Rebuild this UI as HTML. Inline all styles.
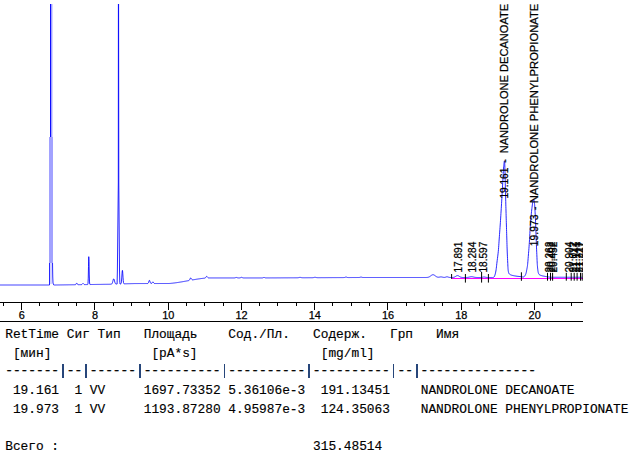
<!DOCTYPE html>
<html><head><meta charset="utf-8"><title>Chromatogram</title>
<style>
html,body{margin:0;padding:0;background:#fff;}
body{width:636px;height:456px;position:relative;overflow:hidden;font-family:"Liberation Sans",sans-serif;}
.a{font-family:"Liberation Sans",sans-serif;fill:#000;stroke:#000;stroke-width:0.25px;}
.m{position:absolute;font-family:"Liberation Mono",monospace;font-size:12.85px;line-height:25px;height:25px;letter-spacing:-0.0163px;white-space:pre;color:#000;-webkit-text-stroke:0.15px #000;}
.p{position:absolute;top:363.6px;width:1.4px;height:14.2px;background:#27467a;}
.d{-webkit-text-stroke:0.4px #000;}
</style></head><body>
<svg width="636" height="456" viewBox="0 0 636 456" style="position:absolute;left:0;top:0">
<defs><clipPath id="c"><rect x="0" y="4" width="583" height="300"/></clipPath></defs>
<polyline clip-path="url(#c)" fill="none" stroke="#0000ff" stroke-width="0.85" stroke-linejoin="round" points="52.50,262.00 52.60,268.00 52.75,277.00 53.00,283.00 53.60,284.80 54.60,285.00 54.75,285.00 55.00,285.00 55.25,285.00 55.50,284.99 55.75,284.99 56.00,284.99 56.25,284.98 56.50,284.98 56.75,284.98 57.00,284.97 57.25,284.97 57.50,284.97 57.75,284.96 58.00,284.96 58.25,284.96 58.50,284.95 58.75,284.95 59.00,284.95 59.25,284.94 59.50,284.94 59.75,284.94 60.00,284.93 60.25,284.93 60.50,284.93 60.75,284.92 61.00,284.92 61.25,284.91 61.50,284.91 61.75,284.91 62.00,284.90 62.25,284.90 62.50,284.90 62.75,284.89 63.00,284.89 63.25,284.89 63.50,284.88 63.75,284.88 64.00,284.88 64.25,284.87 64.50,284.87 64.75,284.87 65.00,284.86 65.25,284.86 65.50,284.86 65.75,284.85 66.00,284.85 66.25,284.85 66.50,284.84 66.75,284.84 67.00,284.84 67.25,284.83 67.50,284.83 67.75,284.83 68.00,284.82 68.25,284.82 68.50,284.82 68.75,284.81 69.00,284.81 69.25,284.81 69.50,284.80 69.75,284.80 70.00,284.80 70.25,284.79 70.50,284.79 70.75,284.79 71.00,284.78 71.25,284.78 71.50,284.77 71.75,284.77 72.00,284.77 72.25,284.76 72.50,284.76 72.75,284.76 73.00,284.75 73.25,284.75 73.50,284.75 73.75,284.74 74.00,284.74 74.25,284.74 74.50,284.73 74.75,284.73 75.00,284.72 75.25,284.70 75.50,284.63 75.75,284.45 76.00,284.11 76.25,283.64 76.50,283.23 76.75,283.11 77.00,283.36 77.25,283.82 77.50,284.25 77.75,284.51 78.00,284.63 78.25,284.67 78.50,284.68 78.75,284.68 79.00,284.67 79.25,284.67 79.50,284.67 79.75,284.66 80.00,284.66 80.25,284.66 80.50,284.65 80.75,284.65 81.00,284.64 81.25,284.62 81.50,284.59 81.75,284.50 82.00,284.33 82.25,284.08 82.50,283.78 82.75,283.52 83.00,283.42 83.25,283.51 83.50,283.76 83.75,284.06 84.00,284.31 84.25,284.46 84.50,284.55 84.75,284.58 85.00,284.59 85.25,284.59 85.50,284.58 85.75,284.58 86.00,284.58 86.25,284.57 86.50,284.57 86.75,284.57 87.00,284.56 87.25,284.56 87.50,284.55 87.75,284.42 88.00,283.31 88.25,278.11 88.50,266.37 88.75,256.68 89.00,261.34 89.25,274.04 89.50,281.95 89.75,284.18 90.00,284.50 90.25,284.52 90.50,284.52 90.75,284.51 91.00,284.51 91.25,284.51 91.50,284.50 91.75,284.50 92.00,284.50 92.25,284.49 92.50,284.49 92.75,284.49 93.00,284.48 93.25,284.48 93.50,284.48 93.75,284.47 94.00,284.47 94.25,284.46 94.50,284.46 94.75,284.46 95.00,284.45 95.25,284.45 95.50,284.45 95.75,284.44 96.00,284.44 96.25,284.44 96.50,284.43 96.75,284.43 97.00,284.43 97.25,284.42 97.50,284.42 97.75,284.42 98.00,284.41 98.25,284.41 98.50,284.41 98.75,284.40 99.00,284.40 99.25,284.40 99.50,284.39 99.75,284.39 100.00,284.39 100.25,284.38 100.50,284.38 100.75,284.38 101.00,284.37 101.25,284.37 101.50,284.37 101.75,284.36 102.00,284.36 102.25,284.36 102.50,284.35 102.75,284.35 103.00,284.35 103.25,284.34 103.50,284.34 103.75,284.34 104.00,284.33 104.25,284.33 104.50,284.32 104.75,284.32 105.00,284.32 105.25,284.31 105.50,284.31 105.75,284.31 106.00,284.30 106.25,284.30 106.50,284.30 106.75,284.29 107.00,284.29 107.25,284.29 107.50,284.28 107.75,284.28 108.00,284.28 108.25,284.27 108.50,284.27 108.75,284.27 109.00,284.26 109.25,284.26 109.50,284.26 109.75,284.25 110.00,284.25 110.25,284.24 110.50,284.23 110.75,284.22 111.00,284.20 111.25,284.16 111.50,284.08 111.75,283.93 112.00,283.64 112.25,283.16 112.50,282.45 112.75,281.55 113.00,280.55 113.25,279.63 113.50,279.01 113.75,278.85 114.00,279.19 114.25,279.94 114.50,280.90 114.75,281.87 115.00,282.68 115.25,283.28 115.50,283.66 115.75,283.88 116.00,283.99 116.25,284.03 116.50,284.04 116.75,284.04 117.10,284.04 117.40,270.00 118.30,183.00 118.40,3.50 118.60,3.50 118.80,183.00 119.50,270.00 119.80,282.50 120.00,283.95 120.00,283.95 120.25,283.94 120.50,283.92 120.75,283.87 121.00,283.65 121.25,282.93 121.50,281.17 121.75,277.97 122.00,273.87 122.25,270.69 122.50,270.35 122.75,273.07 123.00,277.14 123.25,280.60 123.50,282.62 123.75,283.48 124.00,283.75 124.25,283.81 124.50,283.81 124.75,283.81 125.00,283.80 125.25,283.79 125.50,283.79 125.75,283.78 126.00,283.78 126.25,283.77 126.50,283.76 126.75,283.76 127.00,283.75 127.25,283.74 127.50,283.74 127.75,283.73 128.00,283.73 128.25,283.72 128.50,283.71 128.75,283.71 129.00,283.70 129.25,283.69 129.50,283.69 129.75,283.68 130.00,283.68 130.25,283.67 130.50,283.66 130.75,283.66 131.00,283.65 131.25,283.64 131.50,283.64 131.75,283.63 132.00,283.62 132.25,283.62 132.50,283.61 132.75,283.61 133.00,283.60 133.25,283.59 133.50,283.59 133.75,283.58 134.00,283.57 134.25,283.57 134.50,283.56 134.75,283.56 135.00,283.55 135.25,283.55 135.50,283.55 135.75,283.55 136.00,283.55 136.25,283.55 136.50,283.55 136.75,283.55 137.00,283.55 137.25,283.55 137.50,283.55 137.75,283.55 138.00,283.55 138.25,283.55 138.50,283.54 138.75,283.54 139.00,283.54 139.25,283.54 139.50,283.54 139.75,283.54 140.00,283.54 140.25,283.54 140.50,283.54 140.75,283.54 141.00,283.54 141.25,283.54 141.50,283.54 141.75,283.54 142.00,283.54 142.25,283.54 142.50,283.54 142.75,283.54 143.00,283.54 143.25,283.54 143.50,283.54 143.75,283.54 144.00,283.54 144.25,283.54 144.50,283.54 144.75,283.54 145.00,283.54 145.25,283.53 145.50,283.53 145.75,283.53 146.00,283.53 146.25,283.53 146.50,283.53 146.75,283.53 147.00,283.53 147.25,283.53 147.50,283.51 147.75,283.46 148.00,283.32 148.25,283.02 148.50,282.49 148.75,281.75 149.00,280.97 149.25,280.43 149.50,280.37 149.75,280.83 150.00,281.59 150.25,282.35 150.50,282.93 150.75,283.27 151.00,283.42 151.25,283.46 151.50,283.41 151.75,283.25 152.00,282.97 152.25,282.58 152.50,282.16 152.75,281.88 153.00,281.85 153.25,282.09 153.50,282.49 153.75,282.90 154.00,283.21 154.25,283.39 154.50,283.47 154.75,283.51 155.00,283.52 155.25,283.52 155.50,283.52 155.75,283.52 156.00,283.52 156.25,283.52 156.50,283.52 156.75,283.52 157.00,283.52 157.25,283.52 157.50,283.52 157.75,283.52 158.00,283.52 158.25,283.52 158.50,283.52 158.75,283.52 159.00,283.51 159.25,283.51 159.50,283.51 159.75,283.51 160.00,283.51 160.25,283.51 160.50,283.51 160.75,283.51 161.00,283.51 161.25,283.51 161.50,283.51 161.75,283.51 162.00,283.51 162.25,283.51 162.50,283.51 162.75,283.51 163.00,283.51 163.25,283.51 163.50,283.51 163.75,283.51 164.00,283.51 164.25,283.51 164.50,283.51 164.75,283.51 165.00,283.51 165.25,283.51 165.50,283.51 165.75,283.50 166.00,283.50 166.25,283.50 166.50,283.50 166.75,283.50 167.00,283.50 167.25,283.50 167.50,283.50 167.75,283.50 168.00,283.50 168.25,283.50 168.50,283.50 168.75,283.50 169.00,283.50 169.25,283.48 169.50,283.46 169.75,283.44 170.00,283.42 170.25,283.40 170.50,283.38 170.75,283.36 171.00,283.33 171.25,283.31 171.50,283.28 171.75,283.26 172.00,283.23 172.25,283.21 172.50,283.18 172.75,283.15 173.00,283.12 173.25,283.09 173.50,283.06 173.75,283.03 174.00,283.00 174.25,282.97 174.50,282.94 174.75,282.91 175.00,282.88 175.25,282.84 175.50,282.81 175.75,282.78 176.00,282.74 176.25,282.71 176.50,282.67 176.75,282.63 177.00,282.60 177.25,282.56 177.50,282.52 177.75,282.49 178.00,282.45 178.25,282.41 178.50,282.37 178.75,282.33 179.00,282.29 179.25,282.25 179.50,282.21 179.75,282.17 180.00,282.13 180.25,282.09 180.50,282.05 180.75,282.01 181.00,281.97 181.25,281.93 181.50,281.88 181.75,281.84 182.00,281.80 182.25,281.76 182.50,281.71 182.75,281.67 183.00,281.63 183.25,281.58 183.50,281.54 183.75,281.49 184.00,281.45 184.25,281.40 184.50,281.36 184.75,281.31 185.00,281.27 185.25,281.22 185.50,281.18 185.75,281.13 186.00,281.09 186.25,281.04 186.50,281.00 186.75,280.95 187.00,280.91 187.25,280.86 187.50,280.82 187.75,280.77 188.00,280.72 188.25,280.67 188.50,280.62 188.75,280.54 189.00,280.42 189.25,280.23 189.50,279.92 189.75,279.49 190.00,278.97 190.25,278.44 190.50,278.06 190.75,277.93 191.00,278.08 191.25,278.45 191.50,278.89 191.75,279.30 192.00,279.59 192.25,279.76 192.50,279.83 192.75,279.84 193.00,279.81 193.25,279.78 193.50,279.74 193.75,279.69 194.00,279.65 194.25,279.61 194.50,279.57 194.75,279.52 195.00,279.48 195.25,279.44 195.50,279.40 195.75,279.36 196.00,279.32 196.25,279.28 196.50,279.24 196.75,279.20 197.00,279.16 197.25,279.12 197.50,279.08 197.75,279.04 198.00,279.00 198.25,278.96 198.50,278.93 198.75,278.89 199.00,278.85 199.25,278.82 199.50,278.78 199.75,278.74 200.00,278.71 200.25,278.67 200.50,278.64 200.75,278.61 201.00,278.57 201.25,278.54 201.50,278.51 201.75,278.48 202.00,278.45 202.25,278.42 202.50,278.39 202.75,278.36 203.00,278.33 203.25,278.30 203.50,278.27 203.75,278.24 204.00,278.22 204.25,278.19 204.50,278.16 204.75,278.11 205.00,278.03 205.25,277.91 205.50,277.70 205.75,277.41 206.00,277.06 206.25,276.71 206.50,276.45 206.75,276.37 207.00,276.49 207.25,276.77 207.50,277.12 207.75,277.43 208.00,277.66 208.25,277.81 208.50,277.89 208.75,277.93 209.00,277.94 209.25,277.95 209.50,277.95 209.75,277.95 210.00,277.95 210.25,277.95 210.50,277.95 210.75,277.95 211.00,277.95 211.25,277.95 211.50,277.95 211.75,277.95 212.00,277.95 212.25,277.95 212.50,277.95 212.75,277.95 213.00,277.95 213.25,277.95 213.50,277.95 213.75,277.95 214.00,277.95 214.25,277.95 214.50,277.95 214.75,277.95 215.00,277.95 215.25,277.95 215.50,277.95 215.75,277.95 216.00,277.95 216.25,277.95 216.50,277.95 216.75,277.95 217.00,277.95 217.25,277.95 217.50,277.95 217.75,277.95 218.00,277.95 218.25,277.95 218.50,277.95 218.75,277.95 219.00,277.95 219.25,277.95 219.50,277.95 219.75,277.95 220.00,277.95 220.25,277.95 220.50,277.95 220.75,277.95 221.00,277.95 221.25,277.95 221.50,277.95 221.75,277.95 222.00,277.95 222.25,277.95 222.50,277.95 222.75,277.95 223.00,277.95 223.25,277.95 223.50,277.95 223.75,277.95 224.00,277.95 224.25,277.95 224.50,277.95 224.75,277.95 225.00,277.95 225.25,277.95 225.50,277.95 225.75,277.95 226.00,277.95 226.25,277.95 226.50,277.95 226.75,277.95 227.00,277.95 227.25,277.95 227.50,277.95 227.75,277.95 228.00,277.95 228.25,277.95 228.50,277.95 228.75,277.95 229.00,277.95 229.25,277.95 229.50,277.95 229.75,277.95 230.00,277.95 230.25,277.95 230.50,277.95 230.75,277.95 231.00,277.95 231.25,277.95 231.50,277.95 231.75,277.95 232.00,277.95 232.25,277.95 232.50,277.95 232.75,277.95 233.00,277.95 233.25,277.95 233.50,277.95 233.75,277.95 234.00,277.94 234.25,277.93 234.50,277.91 234.75,277.87 235.00,277.82 235.25,277.74 235.50,277.65 235.75,277.56 236.00,277.48 236.25,277.45 236.50,277.47 236.75,277.52 237.00,277.61 237.25,277.70 237.50,277.79 237.75,277.85 238.00,277.90 238.25,277.92 238.50,277.94 238.75,277.94 239.00,277.94 239.25,277.94 239.50,277.92 239.75,277.90 240.00,277.85 240.25,277.77 240.50,277.68 240.75,277.56 241.00,277.46 241.25,277.38 241.50,277.35 241.75,277.38 242.00,277.46 242.25,277.56 242.50,277.68 242.75,277.77 243.00,277.85 243.25,277.90 243.50,277.92 243.75,277.94 244.00,277.95 244.25,277.95 244.50,277.95 244.75,277.95 245.00,277.95 245.25,277.95 245.50,277.95 245.75,277.95 246.00,277.95 246.25,277.95 246.50,277.95 246.75,277.95 247.00,277.95 247.25,277.95 247.50,277.95 247.75,277.95 248.00,277.95 248.25,277.95 248.50,277.95 248.75,277.95 249.00,277.95 249.25,277.95 249.50,277.95 249.75,277.95 250.00,277.95 250.25,277.95 250.50,277.95 250.75,277.95 251.00,277.95 251.25,277.95 251.50,277.95 251.75,277.95 252.00,277.95 252.25,277.95 252.50,277.95 252.75,277.95 253.00,277.95 253.25,277.95 253.50,277.95 253.75,277.95 254.00,277.95 254.25,277.95 254.50,277.95 254.75,277.95 255.00,277.95 255.25,277.95 255.50,277.95 255.75,277.95 256.00,277.95 256.25,277.95 256.50,277.95 256.75,277.95 257.00,277.95 257.25,277.95 257.50,277.95 257.75,277.95 258.00,277.95 258.25,277.95 258.50,277.95 258.75,277.95 259.00,277.95 259.25,277.95 259.50,277.95 259.75,277.95 260.00,277.95 260.25,277.95 260.50,277.95 260.75,277.95 261.00,277.95 261.25,277.94 261.50,277.94 261.75,277.94 262.00,277.93 262.25,277.92 262.50,277.89 262.75,277.84 263.00,277.76 263.25,277.65 263.50,277.55 263.75,277.46 264.00,277.43 264.25,277.46 264.50,277.54 264.75,277.65 265.00,277.75 265.25,277.82 265.50,277.87 265.75,277.90 266.00,277.91 266.25,277.92 266.50,277.92 266.75,277.92 267.00,277.92 267.25,277.92 267.50,277.92 267.75,277.92 268.00,277.91 268.25,277.91 268.50,277.91 268.75,277.91 269.00,277.91 269.25,277.91 269.50,277.91 269.75,277.91 270.00,277.90 270.25,277.90 270.50,277.90 270.75,277.90 271.00,277.90 271.25,277.90 271.50,277.90 271.75,277.90 272.00,277.90 272.25,277.89 272.50,277.89 272.75,277.89 273.00,277.89 273.25,277.89 273.50,277.89 273.75,277.89 274.00,277.89 274.25,277.89 274.50,277.88 274.75,277.88 275.00,277.88 275.25,277.88 275.50,277.88 275.75,277.88 276.00,277.88 276.25,277.88 276.50,277.88 276.75,277.87 277.00,277.87 277.25,277.87 277.50,277.87 277.75,277.87 278.00,277.87 278.25,277.87 278.50,277.87 278.75,277.87 279.00,277.86 279.25,277.86 279.50,277.86 279.75,277.86 280.00,277.86 280.25,277.86 280.50,277.86 280.75,277.86 281.00,277.86 281.25,277.85 281.50,277.85 281.75,277.85 282.00,277.85 282.25,277.85 282.50,277.85 282.75,277.85 283.00,277.85 283.25,277.85 283.50,277.84 283.75,277.84 284.00,277.84 284.25,277.84 284.50,277.84 284.75,277.84 285.00,277.84 285.25,277.84 285.50,277.84 285.75,277.83 286.00,277.83 286.25,277.83 286.50,277.83 286.75,277.83 287.00,277.83 287.25,277.83 287.50,277.83 287.75,277.83 288.00,277.82 288.25,277.82 288.50,277.82 288.75,277.82 289.00,277.82 289.25,277.82 289.50,277.82 289.75,277.82 290.00,277.81 290.25,277.81 290.50,277.81 290.75,277.81 291.00,277.81 291.25,277.81 291.50,277.81 291.75,277.81 292.00,277.81 292.25,277.80 292.50,277.80 292.75,277.80 293.00,277.80 293.25,277.80 293.50,277.80 293.75,277.80 294.00,277.80 294.25,277.80 294.50,277.79 294.75,277.79 295.00,277.79 295.25,277.79 295.50,277.79 295.75,277.79 296.00,277.79 296.25,277.79 296.50,277.78 296.75,277.78 297.00,277.78 297.25,277.77 297.50,277.76 297.75,277.75 298.00,277.72 298.25,277.69 298.50,277.65 298.75,277.59 299.00,277.53 299.25,277.47 299.50,277.42 299.75,277.38 300.00,277.37 300.25,277.38 300.50,277.41 300.75,277.46 301.00,277.52 301.25,277.58 301.50,277.63 301.75,277.68 302.00,277.71 302.25,277.73 302.50,277.74 302.75,277.75 303.00,277.75 303.25,277.75 303.50,277.75 303.75,277.75 304.00,277.75 304.25,277.75 304.50,277.75 304.75,277.75 305.00,277.75 305.25,277.75 305.50,277.75 305.75,277.74 306.00,277.74 306.25,277.74 306.50,277.74 306.75,277.74 307.00,277.74 307.25,277.74 307.50,277.74 307.75,277.74 308.00,277.73 308.25,277.73 308.50,277.73 308.75,277.73 309.00,277.73 309.25,277.73 309.50,277.73 309.75,277.73 310.00,277.72 310.25,277.72 310.50,277.72 310.75,277.72 311.00,277.72 311.25,277.72 311.50,277.72 311.75,277.72 312.00,277.71 312.25,277.71 312.50,277.70 312.75,277.68 313.00,277.66 313.25,277.62 313.50,277.58 313.75,277.52 314.00,277.46 314.25,277.40 314.50,277.35 314.75,277.32 315.00,277.30 315.25,277.31 315.50,277.35 315.75,277.40 316.00,277.46 316.25,277.51 316.50,277.57 316.75,277.61 317.00,277.64 317.25,277.66 317.50,277.67 317.75,277.68 318.00,277.68 318.25,277.69 318.50,277.69 318.75,277.69 319.00,277.68 319.25,277.68 319.50,277.68 319.75,277.68 320.00,277.68 320.25,277.68 320.50,277.68 320.75,277.68 321.00,277.68 321.25,277.67 321.50,277.67 321.75,277.67 322.00,277.67 322.25,277.67 322.50,277.67 322.75,277.67 323.00,277.67 323.25,277.67 323.50,277.66 323.75,277.66 324.00,277.66 324.25,277.66 324.50,277.66 324.75,277.66 325.00,277.66 325.25,277.66 325.50,277.66 325.75,277.65 326.00,277.65 326.25,277.65 326.50,277.65 326.75,277.65 327.00,277.65 327.25,277.65 327.50,277.65 327.75,277.65 328.00,277.64 328.25,277.64 328.50,277.64 328.75,277.64 329.00,277.64 329.25,277.64 329.50,277.64 329.75,277.64 330.00,277.63 330.25,277.63 330.50,277.63 330.75,277.63 331.00,277.63 331.25,277.63 331.50,277.63 331.75,277.63 332.00,277.63 332.25,277.62 332.50,277.62 332.75,277.62 333.00,277.62 333.25,277.62 333.50,277.62 333.75,277.62 334.00,277.62 334.25,277.62 334.50,277.61 334.75,277.61 335.00,277.61 335.25,277.61 335.50,277.61 335.75,277.61 336.00,277.61 336.25,277.61 336.50,277.61 336.75,277.60 337.00,277.60 337.25,277.60 337.50,277.60 337.75,277.60 338.00,277.60 338.25,277.60 338.50,277.60 338.75,277.60 339.00,277.59 339.25,277.59 339.50,277.59 339.75,277.59 340.00,277.59 340.25,277.59 340.50,277.59 340.75,277.59 341.00,277.59 341.25,277.58 341.50,277.58 341.75,277.58 342.00,277.58 342.25,277.58 342.50,277.58 342.75,277.58 343.00,277.58 343.25,277.57 343.50,277.57 343.75,277.56 344.00,277.55 344.25,277.53 344.50,277.48 344.75,277.42 345.00,277.34 345.25,277.24 345.50,277.15 345.75,277.09 346.00,277.06 346.25,277.09 346.50,277.15 346.75,277.24 347.00,277.33 347.25,277.41 347.50,277.47 347.75,277.51 348.00,277.53 348.25,277.54 348.50,277.55 348.75,277.55 349.00,277.55 349.25,277.55 349.50,277.55 349.75,277.55 350.00,277.54 350.25,277.54 350.50,277.54 350.75,277.54 351.00,277.54 351.25,277.54 351.50,277.54 351.75,277.54 352.00,277.54 352.25,277.53 352.50,277.53 352.75,277.53 353.00,277.53 353.25,277.53 353.50,277.53 353.75,277.53 354.00,277.53 354.25,277.53 354.50,277.52 354.75,277.52 355.00,277.52 355.25,277.52 355.50,277.52 355.75,277.52 356.00,277.52 356.25,277.52 356.50,277.52 356.75,277.51 357.00,277.51 357.25,277.51 357.50,277.51 357.75,277.51 358.00,277.51 358.25,277.51 358.50,277.50 358.75,277.50 359.00,277.49 359.25,277.47 359.50,277.43 359.75,277.38 360.00,277.32 360.25,277.24 360.50,277.17 360.75,277.12 361.00,277.10 361.25,277.12 361.50,277.17 361.75,277.24 362.00,277.32 362.25,277.38 362.50,277.43 362.75,277.46 363.00,277.48 363.25,277.49 363.50,277.50 363.75,277.50 364.00,277.50 364.25,277.50 364.50,277.50 364.75,277.50 365.00,277.50 365.25,277.50 365.50,277.50 365.75,277.50 366.00,277.50 366.25,277.50 366.50,277.50 366.75,277.50 367.00,277.50 367.25,277.50 367.50,277.50 367.75,277.50 368.00,277.50 368.25,277.50 368.50,277.50 368.75,277.50 369.00,277.50 369.25,277.50 369.50,277.50 369.75,277.50 370.00,277.50 370.25,277.50 370.50,277.50 370.75,277.50 371.00,277.50 371.25,277.50 371.50,277.50 371.75,277.50 372.00,277.50 372.25,277.50 372.50,277.50 372.75,277.50 373.00,277.50 373.25,277.50 373.50,277.50 373.75,277.50 374.00,277.50 374.25,277.50 374.50,277.50 374.75,277.50 375.00,277.50 375.25,277.50 375.50,277.50 375.75,277.50 376.00,277.50 376.25,277.50 376.50,277.50 376.75,277.50 377.00,277.50 377.25,277.50 377.50,277.50 377.75,277.50 378.00,277.50 378.25,277.50 378.50,277.50 378.75,277.50 379.00,277.50 379.25,277.50 379.50,277.50 379.75,277.50 380.00,277.50 380.25,277.50 380.50,277.50 380.75,277.50 381.00,277.50 381.25,277.50 381.50,277.50 381.75,277.50 382.00,277.50 382.25,277.50 382.50,277.50 382.75,277.50 383.00,277.50 383.25,277.50 383.50,277.50 383.75,277.50 384.00,277.50 384.25,277.50 384.50,277.50 384.75,277.50 385.00,277.50 385.25,277.50 385.50,277.50 385.75,277.50 386.00,277.50 386.25,277.50 386.50,277.50 386.75,277.50 387.00,277.50 387.25,277.50 387.50,277.50 387.75,277.50 388.00,277.50 388.25,277.50 388.50,277.50 388.75,277.50 389.00,277.50 389.25,277.50 389.50,277.50 389.75,277.50 390.00,277.50 390.25,277.50 390.50,277.50 390.75,277.50 391.00,277.50 391.25,277.50 391.50,277.50 391.75,277.50 392.00,277.50 392.25,277.50 392.50,277.50 392.75,277.50 393.00,277.50 393.25,277.50 393.50,277.50 393.75,277.50 394.00,277.50 394.25,277.50 394.50,277.50 394.75,277.50 395.00,277.50 395.25,277.50 395.50,277.50 395.75,277.50 396.00,277.50 396.25,277.50 396.50,277.50 396.75,277.50 397.00,277.50 397.25,277.50 397.50,277.50 397.75,277.50 398.00,277.50 398.25,277.50 398.50,277.50 398.75,277.50 399.00,277.50 399.25,277.50 399.50,277.50 399.75,277.50 400.00,277.50 400.25,277.50 400.50,277.50 400.75,277.50 401.00,277.50 401.25,277.50 401.50,277.50 401.75,277.50 402.00,277.50 402.25,277.50 402.50,277.50 402.75,277.50 403.00,277.50 403.25,277.50 403.50,277.50 403.75,277.50 404.00,277.50 404.25,277.50 404.50,277.50 404.75,277.50 405.00,277.50 405.25,277.50 405.50,277.50 405.75,277.50 406.00,277.50 406.25,277.50 406.50,277.50 406.75,277.50 407.00,277.50 407.25,277.50 407.50,277.50 407.75,277.50 408.00,277.50 408.25,277.50 408.50,277.50 408.75,277.50 409.00,277.50 409.25,277.50 409.50,277.50 409.75,277.50 410.00,277.50 410.25,277.50 410.50,277.50 410.75,277.50 411.00,277.50 411.25,277.50 411.50,277.50 411.75,277.50 412.00,277.50 412.25,277.50 412.50,277.50 412.75,277.50 413.00,277.50 413.25,277.50 413.50,277.50 413.75,277.50 414.00,277.50 414.25,277.50 414.50,277.50 414.75,277.50 415.00,277.50 415.25,277.50 415.50,277.50 415.75,277.50 416.00,277.50 416.25,277.50 416.50,277.50 416.75,277.50 417.00,277.50 417.25,277.50 417.50,277.50 417.75,277.50 418.00,277.50 418.25,277.50 418.50,277.50 418.75,277.50 419.00,277.50 419.25,277.50 419.50,277.50 419.75,277.50 420.00,277.50 420.25,277.50 420.50,277.50 420.75,277.50 421.00,277.50 421.25,277.50 421.50,277.50 421.75,277.50 422.00,277.50 422.25,277.50 422.50,277.50 422.75,277.50 423.00,277.50 423.25,277.50 423.50,277.50 423.75,277.50 424.00,277.50 424.25,277.50 424.50,277.50 424.75,277.50 425.00,277.50 425.25,277.49 425.50,277.49 425.75,277.49 426.00,277.48 426.25,277.47 426.50,277.46 426.75,277.45 427.00,277.43 427.25,277.41 427.50,277.38 427.75,277.34 428.00,277.29 428.25,277.23 428.50,277.15 428.75,277.07 429.00,276.96 429.25,276.84 429.50,276.71 429.75,276.56 430.00,276.39 430.25,276.22 430.50,276.03 430.75,275.84 431.00,275.65 431.25,275.46 431.50,275.28 431.75,275.12 432.00,274.97 432.25,274.86 432.50,274.77 432.75,274.72 433.00,274.70 433.25,274.72 433.50,274.77 433.75,274.86 434.00,274.97 434.25,275.12 434.50,275.28 434.75,275.46 435.00,275.65 435.25,275.84 435.50,276.03 435.75,276.22 436.00,276.39 436.25,276.56 436.50,276.70 436.75,276.83 437.00,276.95 437.25,277.04 437.50,277.11 437.75,277.17 438.00,277.21 438.25,277.23 438.50,277.23 438.75,277.21 439.00,277.19 439.25,277.15 439.50,277.10 439.75,277.05 440.00,277.00 440.25,276.96 440.50,276.92 440.75,276.90 441.00,276.90 441.25,276.91 441.50,276.93 441.75,276.97 442.00,277.02 442.25,277.08 442.50,277.14 442.75,277.19 443.00,277.25 443.25,277.30 443.50,277.34 443.75,277.37 444.00,277.39 444.25,277.39 444.50,277.38 444.75,277.35 445.00,277.31 445.25,277.25 445.50,277.17 445.75,277.09 446.00,277.00 446.25,276.92 446.50,276.86 446.75,276.81 447.00,276.80 447.25,276.81 447.50,276.86 447.75,276.92 448.00,277.01 448.25,277.09 448.50,277.18 448.75,277.26 449.00,277.33 449.25,277.38 449.50,277.42 449.75,277.45 450.00,277.47 450.25,277.48 450.50,277.49 450.75,277.49 451.00,277.49 451.25,277.49 451.50,277.49 451.75,277.49 452.00,277.48 452.25,277.47 452.50,277.46 452.75,277.44 453.00,277.42 453.25,277.38 453.50,277.34 453.75,277.28 454.00,277.21 454.25,277.13 454.50,277.03 454.75,276.91 455.00,276.78 455.25,276.63 455.50,276.48 455.75,276.32 456.00,276.16 456.25,276.01 456.50,275.87 456.75,275.76 457.00,275.67 457.25,275.62 457.50,275.60 457.75,275.62 458.00,275.67 458.25,275.76 458.50,275.87 458.75,276.01 459.00,276.16 459.25,276.32 459.50,276.48 459.75,276.63 460.00,276.78 460.25,276.91 460.50,277.03 460.75,277.13 461.00,277.21 461.25,277.28 461.50,277.34 461.75,277.38 462.00,277.42 462.25,277.44 462.50,277.46 462.75,277.47 463.00,277.48 463.25,277.49 463.50,277.49 463.75,277.49 464.00,277.50 464.25,277.50 464.50,277.50 464.75,277.50 465.00,277.50 465.25,277.49 465.50,277.49 465.75,277.49 466.00,277.48 466.25,277.47 466.50,277.46 466.75,277.45 467.00,277.44 467.25,277.42 467.50,277.39 467.75,277.36 468.00,277.33 468.25,277.29 468.50,277.24 468.75,277.19 469.00,277.13 469.25,277.08 469.50,277.01 469.75,276.95 470.00,276.90 470.25,276.84 470.50,276.79 470.75,276.75 471.00,276.72 471.25,276.71 471.50,276.70 471.75,276.71 472.00,276.72 472.25,276.75 472.50,276.79 472.75,276.84 473.00,276.90 473.25,276.95 473.50,277.01 473.75,277.08 474.00,277.13 474.25,277.19 474.50,277.24 474.75,277.29 475.00,277.33 475.25,277.36 475.50,277.39 475.75,277.42 476.00,277.44 476.25,277.45 476.50,277.46 476.75,277.47 477.00,277.48 477.25,277.49 477.50,277.49 477.75,277.49 478.00,277.50 478.25,277.50 478.50,277.50 478.75,277.50 479.00,277.50 479.25,277.50 479.50,277.49 479.75,277.49 480.00,277.49 480.25,277.48 480.50,277.47 480.75,277.45 481.00,277.43 481.25,277.41 481.50,277.38 481.75,277.34 482.00,277.29 482.25,277.25 482.50,277.20 482.75,277.15 483.00,277.10 483.25,277.06 483.50,277.03 483.75,277.01 484.00,277.00 484.25,277.01 484.50,277.03 484.75,277.06 485.00,277.10 485.25,277.15 485.50,277.20 485.75,277.25 486.00,277.29 486.25,277.34 486.50,277.38 486.75,277.41 487.00,277.43 487.25,277.45 487.50,277.47 487.75,277.48 488.00,277.49 488.25,277.49 488.50,277.49 488.75,277.50 489.00,277.50 489.25,277.50 489.50,277.50 489.75,277.50 490.00,277.50 490.25,277.50 490.50,277.50 490.75,277.50 491.00,277.50 491.25,277.50 491.50,277.50 491.75,277.50 492.00,277.60 492.14,277.59 492.34,277.58 492.58,277.57 492.83,277.54 493.07,277.49 493.30,277.40 493.50,277.32 493.70,277.26 493.89,277.17 494.09,277.01 494.29,276.74 494.50,276.30 494.73,275.70 494.96,274.98 495.21,274.14 495.45,273.20 495.68,272.15 495.90,271.00 496.10,269.73 496.28,268.34 496.46,266.84 496.63,265.26 496.81,263.64 497.00,262.00 497.21,260.33 497.43,258.62 497.66,256.86 497.89,255.05 498.10,253.20 498.30,251.30 498.47,249.36 498.63,247.38 498.77,245.36 498.91,243.29 499.05,241.17 499.20,239.00 499.36,236.77 499.53,234.46 499.70,232.11 499.87,229.73 500.04,227.35 500.20,225.00 500.36,222.68 500.51,220.37 500.66,218.06 500.80,215.74 500.95,213.39 501.10,211.00 501.25,208.57 501.40,206.11 501.55,203.62 501.70,201.11 501.85,198.57 502.00,196.00 502.15,193.34 502.31,190.59 502.46,187.81 502.61,185.07 502.76,182.45 502.90,180.00 503.03,177.69 503.16,175.46 503.27,173.34 503.39,171.36 503.50,169.57 503.60,168.00 503.70,166.68 503.79,165.58 503.88,164.66 503.96,163.89 504.03,163.22 504.10,162.60 504.16,162.05 504.21,161.60 504.26,161.25 504.31,161.00 504.35,160.85 504.40,160.80 504.45,160.80 504.50,160.85 504.55,161.00 504.60,161.30 504.65,161.82 504.70,162.60 504.75,163.56 504.79,164.63 504.83,165.91 504.88,167.50 504.93,169.50 505.00,172.00 505.08,175.26 505.19,179.25 505.29,183.65 505.40,188.13 505.51,192.35 505.60,196.00 505.68,199.03 505.75,201.70 505.81,204.12 505.87,206.41 505.94,208.66 506.00,211.00 506.07,213.40 506.13,215.78 506.20,218.12 506.27,220.44 506.33,222.74 506.40,225.00 506.47,227.22 506.53,229.41 506.60,231.56 506.67,233.70 506.73,235.84 506.80,238.00 506.87,240.19 506.93,242.41 506.99,244.62 507.06,246.81 507.13,248.95 507.20,251.00 507.28,252.99 507.36,254.94 507.45,256.84 507.54,258.67 507.62,260.39 507.70,262.00 507.77,263.50 507.83,264.91 507.89,266.23 507.96,267.44 508.02,268.53 508.10,269.50 508.18,270.31 508.27,270.98 508.36,271.52 508.46,271.99 508.57,272.40 508.70,272.80 508.83,273.16 508.96,273.45 509.09,273.69 509.26,273.90 509.45,274.10 509.70,274.30 509.99,274.50 510.31,274.68 510.66,274.84 511.06,275.00 511.50,275.15 512.00,275.30 512.55,275.45 513.16,275.59 513.81,275.73 514.50,275.86 515.23,275.98 516.00,276.10 516.86,276.22 517.83,276.33 518.84,276.43 519.81,276.53 520.69,276.62 521.40,276.70 521.91,276.78 522.28,276.86 522.55,276.94 522.76,276.99 522.96,277.02 523.20,277.00 523.46,276.95 523.70,276.88 523.93,276.77 524.16,276.63 524.38,276.44 524.60,276.20 524.83,275.90 525.06,275.56 525.28,275.16 525.50,274.72 525.71,274.23 525.90,273.70 526.07,273.11 526.23,272.46 526.38,271.76 526.52,271.02 526.66,270.27 526.80,269.50 526.94,268.77 527.07,268.06 527.21,267.33 527.34,266.53 527.47,265.60 527.60,264.50 527.73,263.19 527.87,261.70 528.00,260.08 528.13,258.39 528.27,256.68 528.40,255.00 528.53,253.40 528.66,251.86 528.79,250.30 528.92,248.64 529.06,246.80 529.20,244.70 529.36,242.24 529.52,239.47 529.69,236.52 529.86,233.53 530.03,230.64 530.20,228.00 530.37,225.57 530.53,223.24 530.70,221.02 530.87,218.90 531.03,216.89 531.20,215.00 531.37,213.22 531.54,211.56 531.71,210.00 531.88,208.56 532.04,207.22 532.20,206.00 532.35,204.89 532.49,203.91 532.63,203.03 532.76,202.26 532.88,201.58 533.00,201.00 533.11,200.51 533.21,200.13 533.31,199.84 533.41,199.65 533.50,199.54 533.60,199.50 533.70,199.52 533.80,199.61 533.90,199.78 534.00,200.06 534.10,200.45 534.20,201.00 534.30,201.70 534.40,202.56 534.51,203.53 534.61,204.61 534.71,205.77 534.80,207.00 534.89,208.33 534.98,209.78 535.06,211.31 535.14,212.89 535.22,214.47 535.30,216.00 535.37,217.38 535.43,218.60 535.49,219.83 535.55,221.21 535.62,222.88 535.70,225.00 535.80,227.76 535.92,231.09 536.04,234.71 536.17,238.36 536.29,241.78 536.40,244.70 536.50,247.10 536.59,249.19 536.67,251.05 536.75,252.75 536.82,254.38 536.90,256.00 536.97,257.61 537.03,259.13 537.09,260.58 537.16,261.96 537.22,263.26 537.30,264.50 537.39,265.68 537.49,266.80 537.59,267.86 537.69,268.83 537.80,269.71 537.90,270.50 538.00,271.17 538.09,271.72 538.18,272.19 538.28,272.59 538.38,272.95 538.50,273.30 538.62,273.62 538.73,273.89 538.86,274.12 539.00,274.32 539.18,274.51 539.40,274.70 539.68,274.88 540.00,275.05 540.35,275.20 540.73,275.34 541.11,275.47 541.50,275.60 541.89,275.72 542.29,275.83 542.70,275.93 543.12,276.02 543.56,276.11 544.00,276.20 544.46,276.29 544.95,276.38 545.44,276.46 545.94,276.54 546.43,276.62 546.90,276.70 547.35,276.78 547.79,276.85 548.22,276.92 548.65,276.99 549.08,277.05 549.50,277.10 549.95,277.14 550.43,277.17 550.91,277.20 551.36,277.22 551.73,277.24 552.00,277.25 552.25,277.25 552.50,277.25 552.75,277.25 553.00,277.25 553.25,277.25 553.50,277.25 553.75,277.25 554.00,277.25 554.25,277.25 554.50,277.25 554.75,277.25 555.00,277.25 555.25,277.25 555.50,277.25 555.75,277.25 556.00,277.25 556.25,277.25 556.50,277.25 556.75,277.25 557.00,277.25 557.25,277.25 557.50,277.25 557.75,277.25 558.00,277.25 558.25,277.25 558.50,277.25 558.75,277.25 559.00,277.25 559.25,277.25 559.50,277.25 559.75,277.25 560.00,277.25 560.25,277.25 560.50,277.25 560.75,277.25 561.00,277.25 561.25,277.25 561.50,277.25 561.75,277.25 562.00,277.25 562.25,277.25 562.50,277.25 562.75,277.25 563.00,277.25 563.25,277.25 563.50,277.25 563.75,277.25 564.00,277.25 564.25,277.25 564.50,277.25 564.75,277.25 565.00,277.25 565.25,277.25 565.50,277.25 565.75,277.25 566.00,277.25 566.25,277.25 566.50,277.25 566.75,277.25 567.00,277.25 567.25,277.25 567.50,277.25 567.75,277.25 568.00,277.25 568.25,277.25 568.50,277.25 568.75,277.25 569.00,277.25 569.25,277.25 569.50,277.25 569.75,277.25 570.00,277.25 570.25,277.25 570.50,277.25 570.75,277.25 571.00,277.25 571.25,277.25 571.50,277.25 571.75,277.25 572.00,277.25 572.25,277.25 572.50,277.25 572.75,277.25 573.00,277.25 573.25,277.25 573.50,277.25 573.75,277.25 574.00,277.25 574.25,277.25 574.50,277.25 574.75,277.25 575.00,277.25 575.25,277.25 575.50,277.25 575.75,277.25 576.00,277.25 576.25,277.25 576.50,277.25 576.75,277.25 577.00,277.25 577.25,277.25 577.50,277.25 577.75,277.25 578.00,277.25 578.25,277.25 578.50,277.25 578.75,277.25 579.00,277.25 579.25,277.25 579.50,277.25 579.75,277.25 580.00,277.25 580.25,277.25 580.50,277.25 580.75,277.25 581.00,277.25 581.25,277.25 581.50,277.25 581.75,277.25 582.00,277.25 582.25,277.25 582.50,277.25"/>
<polyline clip-path="url(#c)" fill="none" stroke="#0000ff" stroke-width="0.85" stroke-linejoin="round" points="0.00,285.00 0.25,285.00 0.50,285.00 0.75,285.00 1.00,285.00 1.25,285.00 1.50,285.00 1.75,285.00 2.00,285.00 2.25,285.00 2.50,285.00 2.75,285.00 3.00,285.00 3.25,285.00 3.50,285.00 3.75,285.00 4.00,285.00 4.25,285.00 4.50,285.00 4.75,285.00 5.00,285.00 5.25,285.00 5.50,285.00 5.75,285.00 6.00,285.00 6.25,285.00 6.50,285.00 6.75,285.00 7.00,285.00 7.25,285.00 7.50,285.00 7.75,285.00 8.00,285.00 8.25,285.00 8.50,285.00 8.75,285.00 9.00,285.00 9.25,285.00 9.50,285.00 9.75,285.00 10.00,285.00 10.25,285.00 10.50,285.00 10.75,285.00 11.00,285.00 11.25,285.00 11.50,285.00 11.75,285.00 12.00,285.00 12.25,285.00 12.50,285.00 12.75,285.00 13.00,285.00 13.25,285.00 13.50,285.00 13.75,285.00 14.00,285.00 14.25,285.00 14.50,285.00 14.75,285.00 15.00,285.00 15.25,285.00 15.50,285.00 15.75,285.00 16.00,285.00 16.25,285.00 16.50,285.00 16.75,285.00 17.00,285.00 17.25,285.00 17.50,285.00 17.75,285.00 18.00,285.00 18.25,285.00 18.50,285.00 18.75,285.00 19.00,285.00 19.25,285.00 19.50,285.00 19.75,285.00 20.00,285.00 20.25,285.00 20.50,285.00 20.75,285.00 21.00,285.00 21.25,285.00 21.50,285.00 21.75,285.00 22.00,285.00 22.25,285.00 22.50,285.00 22.75,285.00 23.00,285.00 23.25,285.00 23.50,285.00 23.75,285.00 24.00,285.00 24.25,285.00 24.50,285.00 24.75,285.00 25.00,285.00 25.25,285.00 25.50,285.00 25.75,285.00 26.00,285.00 26.25,285.00 26.50,285.00 26.75,285.00 27.00,285.00 27.25,285.00 27.50,285.00 27.75,285.00 28.00,285.00 28.25,285.00 28.50,285.00 28.75,285.00 29.00,285.00 29.25,285.00 29.50,285.00 29.75,285.00 30.00,285.00 30.25,285.00 30.50,285.00 30.75,285.00 31.00,285.00 31.25,285.00 31.50,285.00 31.75,285.00 32.00,285.00 32.25,285.00 32.50,285.00 32.75,285.00 33.00,285.00 33.25,285.00 33.50,285.00 33.75,285.00 34.00,285.00 34.25,285.00 34.50,285.00 34.75,285.00 35.00,285.00 35.25,285.00 35.50,285.00 35.75,285.00 36.00,285.00 36.25,285.00 36.50,285.00 36.75,285.00 37.00,285.00 37.25,285.00 37.50,285.00 37.75,285.00 38.00,285.00 38.25,285.00 38.50,285.00 38.75,285.00 39.00,285.00 39.25,285.00 39.50,285.00 39.75,285.00 40.00,285.00 40.25,285.00 40.50,285.00 40.75,285.00 41.00,285.00 41.25,285.00 41.50,285.00 41.75,285.00 42.00,285.00 42.25,285.00 42.50,285.00 42.75,285.00 43.00,285.00 43.25,285.00 43.50,285.00 43.75,285.00 44.00,285.00 44.25,285.00 44.50,285.00 44.75,285.00 45.00,285.00 45.25,285.00 45.50,285.00 45.75,285.00 46.00,285.00 46.25,285.00 46.50,285.00 46.75,285.00 47.00,285.00 47.25,285.00 47.50,285.00 47.75,285.00 48.00,285.00 48.25,285.00 48.50,285.00 48.75,285.00 49.00,285.00 49.25,285.00 49.50,285.00 49.50,262.00"/>
<g shape-rendering="crispEdges"><rect x="50" y="4" width="1" height="133" fill="#0c0cff"/><rect x="51" y="4" width="1" height="133" fill="#a0a0ff"/><rect x="52" y="4" width="1" height="133" fill="#d6d6ff"/><rect x="49" y="137" width="4" height="126" fill="#a2a2ff"/><rect x="50" y="263" width="2" height="21" fill="#d4d4ff"/></g>
<line x1="451.6" y1="278.45" x2="583" y2="278.45" stroke="#ff00ff" stroke-width="1.1"/>
<line x1="0" y1="302.5" x2="583" y2="302.5" stroke="#000" stroke-width="1" shape-rendering="crispEdges"/>
<line x1="0" y1="321.5" x2="583" y2="321.5" stroke="#000" stroke-width="1" shape-rendering="crispEdges"/>
<line x1="3.50" y1="302.5" x2="3.50" y2="306.00" stroke="#000" stroke-width="1" shape-rendering="crispEdges"/>
<line x1="21.50" y1="302.5" x2="21.50" y2="310.00" stroke="#000" stroke-width="1" shape-rendering="crispEdges"/>
<text x="21.70" y="318.8" text-anchor="middle" font-size="10.9" class="a">6</text>
<line x1="39.50" y1="302.5" x2="39.50" y2="306.00" stroke="#000" stroke-width="1" shape-rendering="crispEdges"/>
<line x1="58.50" y1="302.5" x2="58.50" y2="306.00" stroke="#000" stroke-width="1" shape-rendering="crispEdges"/>
<line x1="76.50" y1="302.5" x2="76.50" y2="306.00" stroke="#000" stroke-width="1" shape-rendering="crispEdges"/>
<line x1="94.50" y1="302.5" x2="94.50" y2="310.00" stroke="#000" stroke-width="1" shape-rendering="crispEdges"/>
<text x="94.98" y="318.8" text-anchor="middle" font-size="10.9" class="a">8</text>
<line x1="113.50" y1="302.5" x2="113.50" y2="306.00" stroke="#000" stroke-width="1" shape-rendering="crispEdges"/>
<line x1="131.50" y1="302.5" x2="131.50" y2="306.00" stroke="#000" stroke-width="1" shape-rendering="crispEdges"/>
<line x1="149.50" y1="302.5" x2="149.50" y2="306.00" stroke="#000" stroke-width="1" shape-rendering="crispEdges"/>
<line x1="168.50" y1="302.5" x2="168.50" y2="310.00" stroke="#000" stroke-width="1" shape-rendering="crispEdges"/>
<text x="168.26" y="318.8" text-anchor="middle" font-size="10.9" class="a">10</text>
<line x1="186.50" y1="302.5" x2="186.50" y2="306.00" stroke="#000" stroke-width="1" shape-rendering="crispEdges"/>
<line x1="204.50" y1="302.5" x2="204.50" y2="306.00" stroke="#000" stroke-width="1" shape-rendering="crispEdges"/>
<line x1="223.50" y1="302.5" x2="223.50" y2="306.00" stroke="#000" stroke-width="1" shape-rendering="crispEdges"/>
<line x1="241.50" y1="302.5" x2="241.50" y2="310.00" stroke="#000" stroke-width="1" shape-rendering="crispEdges"/>
<text x="241.54" y="318.8" text-anchor="middle" font-size="10.9" class="a">12</text>
<line x1="259.50" y1="302.5" x2="259.50" y2="306.00" stroke="#000" stroke-width="1" shape-rendering="crispEdges"/>
<line x1="277.50" y1="302.5" x2="277.50" y2="306.00" stroke="#000" stroke-width="1" shape-rendering="crispEdges"/>
<line x1="296.50" y1="302.5" x2="296.50" y2="306.00" stroke="#000" stroke-width="1" shape-rendering="crispEdges"/>
<line x1="314.50" y1="302.5" x2="314.50" y2="310.00" stroke="#000" stroke-width="1" shape-rendering="crispEdges"/>
<text x="314.82" y="318.8" text-anchor="middle" font-size="10.9" class="a">14</text>
<line x1="332.50" y1="302.5" x2="332.50" y2="306.00" stroke="#000" stroke-width="1" shape-rendering="crispEdges"/>
<line x1="351.50" y1="302.5" x2="351.50" y2="306.00" stroke="#000" stroke-width="1" shape-rendering="crispEdges"/>
<line x1="369.50" y1="302.5" x2="369.50" y2="306.00" stroke="#000" stroke-width="1" shape-rendering="crispEdges"/>
<line x1="387.50" y1="302.5" x2="387.50" y2="310.00" stroke="#000" stroke-width="1" shape-rendering="crispEdges"/>
<text x="388.10" y="318.8" text-anchor="middle" font-size="10.9" class="a">16</text>
<line x1="406.50" y1="302.5" x2="406.50" y2="306.00" stroke="#000" stroke-width="1" shape-rendering="crispEdges"/>
<line x1="424.50" y1="302.5" x2="424.50" y2="306.00" stroke="#000" stroke-width="1" shape-rendering="crispEdges"/>
<line x1="442.50" y1="302.5" x2="442.50" y2="306.00" stroke="#000" stroke-width="1" shape-rendering="crispEdges"/>
<line x1="461.50" y1="302.5" x2="461.50" y2="310.00" stroke="#000" stroke-width="1" shape-rendering="crispEdges"/>
<text x="461.38" y="318.8" text-anchor="middle" font-size="10.9" class="a">18</text>
<line x1="479.50" y1="302.5" x2="479.50" y2="306.00" stroke="#000" stroke-width="1" shape-rendering="crispEdges"/>
<line x1="497.50" y1="302.5" x2="497.50" y2="306.00" stroke="#000" stroke-width="1" shape-rendering="crispEdges"/>
<line x1="516.50" y1="302.5" x2="516.50" y2="306.00" stroke="#000" stroke-width="1" shape-rendering="crispEdges"/>
<line x1="534.50" y1="302.5" x2="534.50" y2="310.00" stroke="#000" stroke-width="1" shape-rendering="crispEdges"/>
<text x="534.66" y="318.8" text-anchor="middle" font-size="10.9" class="a">20</text>
<line x1="552.50" y1="302.5" x2="552.50" y2="306.00" stroke="#000" stroke-width="1" shape-rendering="crispEdges"/>
<line x1="571.50" y1="302.5" x2="571.50" y2="306.00" stroke="#000" stroke-width="1" shape-rendering="crispEdges"/>
<line x1="451.60" y1="274.00" x2="451.60" y2="278.80" stroke="#000" stroke-width="1"/>
<line x1="465.40" y1="274.00" x2="465.40" y2="282.60" stroke="#000" stroke-width="1"/>
<line x1="481.60" y1="272.00" x2="481.60" y2="282.60" stroke="#000" stroke-width="1"/>
<line x1="488.40" y1="274.00" x2="488.40" y2="282.60" stroke="#000" stroke-width="1"/>
<line x1="521.40" y1="272.30" x2="521.40" y2="280.80" stroke="#000" stroke-width="1"/>
<line x1="547.50" y1="272.80" x2="547.50" y2="280.70" stroke="#000" stroke-width="1"/>
<line x1="550.50" y1="272.80" x2="550.50" y2="280.70" stroke="#000" stroke-width="1"/>
<line x1="552.60" y1="272.80" x2="552.60" y2="280.70" stroke="#000" stroke-width="1"/>
<line x1="566.30" y1="272.80" x2="566.30" y2="280.70" stroke="#000" stroke-width="1"/>
<line x1="571.20" y1="272.80" x2="571.20" y2="280.70" stroke="#000" stroke-width="1"/>
<line x1="574.20" y1="272.80" x2="574.20" y2="280.70" stroke="#000" stroke-width="1"/>
<line x1="577.10" y1="272.80" x2="577.10" y2="280.70" stroke="#000" stroke-width="1"/>
<line x1="580.50" y1="272.80" x2="580.50" y2="280.70" stroke="#000" stroke-width="1"/>
<line x1="582.20" y1="272.80" x2="582.20" y2="280.70" stroke="#000" stroke-width="1"/>
<g clip-path="url(#c)">
<text transform="translate(461.59,272.50) rotate(-90)" font-size="11.6" textLength="30.80" lengthAdjust="spacingAndGlyphs" class="a">17.891</text>
<text transform="translate(475.99,272.50) rotate(-90)" font-size="11.6" textLength="30.80" lengthAdjust="spacingAndGlyphs" class="a">18.284</text>
<text transform="translate(487.45,272.50) rotate(-90)" font-size="11.6" textLength="30.80" lengthAdjust="spacingAndGlyphs" class="a">18.597</text>
<text transform="translate(553.00,272.50) rotate(-90)" font-size="11.6" textLength="30.80" lengthAdjust="spacingAndGlyphs" class="a">20.262</text>
<text transform="translate(555.30,272.50) rotate(-90)" font-size="11.6" textLength="30.80" lengthAdjust="spacingAndGlyphs" class="a">20.402</text>
<text transform="translate(557.00,272.50) rotate(-90)" font-size="11.6" textLength="30.80" lengthAdjust="spacingAndGlyphs" class="a">20.452</text>
<text transform="translate(573.00,272.50) rotate(-90)" font-size="11.6" textLength="30.80" lengthAdjust="spacingAndGlyphs" class="a">20.904</text>
<text transform="translate(577.00,272.50) rotate(-90)" font-size="11.6" textLength="30.80" lengthAdjust="spacingAndGlyphs" class="a">21.012</text>
<text transform="translate(580.00,272.50) rotate(-90)" font-size="11.6" textLength="30.80" lengthAdjust="spacingAndGlyphs" class="a">21.141</text>
<text transform="translate(583.00,272.50) rotate(-90)" font-size="11.6" textLength="30.80" lengthAdjust="spacingAndGlyphs" class="a">21.217</text>
<text transform="translate(586.00,272.50) rotate(-90)" font-size="11.6" textLength="30.80" lengthAdjust="spacingAndGlyphs" class="a">21.247</text>
</g>
<text transform="translate(508.30,198.60) rotate(-90)" font-size="11.6" textLength="31.00" lengthAdjust="spacingAndGlyphs" class="a">19.161</text>
<text transform="translate(508.20,162.80) rotate(-90)" font-size="11.6" textLength="3.60" lengthAdjust="spacingAndGlyphs" class="a">-</text>
<text transform="translate(508.20,153.30) rotate(-90)" font-size="11.6" textLength="149.50" lengthAdjust="spacingAndGlyphs" class="a">NANDROLONE DECANOATE</text>
<text transform="translate(538.20,246.20) rotate(-90)" font-size="11.6" textLength="31.60" lengthAdjust="spacingAndGlyphs" class="a">19.973</text>
<text transform="translate(538.20,210.20) rotate(-90)" font-size="11.6" textLength="206.40" lengthAdjust="spacingAndGlyphs" class="a">- NANDROLONE PHENYLPROPIONATE</text>
</svg>
<span class="m" style="left:5.20px;top:322.30px">RetTime</span>
<span class="m" style="left:66.76px;top:322.30px">Сиг</span>
<span class="m" style="left:97.54px;top:322.30px">Тип</span>
<span class="m" style="left:143.71px;top:322.30px">Площадь</span>
<span class="m" style="left:228.35px;top:322.30px">Сод./Пл.</span>
<span class="m" style="left:313.00px;top:322.30px">Содерж.</span>
<span class="m" style="left:389.95px;top:322.30px">Грп</span>
<span class="m" style="left:436.12px;top:322.30px">Имя</span>
<span class="m" style="left:12.89px;top:340.93px">[мин]</span>
<span class="m" style="left:151.41px;top:340.93px">[pA*s]</span>
<span class="m" style="left:320.69px;top:340.93px">[mg/ml]</span>
<i class="p" style="left:62.21px"></i>
<i class="p" style="left:85.30px"></i>
<i class="p" style="left:139.16px"></i>
<i class="p" style="left:223.81px"></i>
<i class="p" style="left:308.45px"></i>
<i class="p" style="left:393.10px"></i>
<i class="p" style="left:416.18px"></i>
<span class="m d" style="left:5.20px;top:357.86px">------- -- ------ ---------- ---------- ---------- -- ---------------</span>
<span class="m" style="left:12.89px;top:378.19px">19.161</span>
<span class="m" style="left:74.45px;top:378.19px">1</span>
<span class="m" style="left:89.85px;top:378.19px">VV</span>
<span class="m" style="left:143.71px;top:378.19px">1697.73352</span>
<span class="m" style="left:228.35px;top:378.19px">5.36106e-3</span>
<span class="m" style="left:320.69px;top:378.19px">191.13451</span>
<span class="m" style="left:420.73px;top:378.19px">NANDROLONE DECANOATE</span>
<span class="m" style="left:12.89px;top:396.82px">19.973</span>
<span class="m" style="left:74.45px;top:396.82px">1</span>
<span class="m" style="left:89.85px;top:396.82px">VV</span>
<span class="m" style="left:143.71px;top:396.82px">1193.87280</span>
<span class="m" style="left:228.35px;top:396.82px">4.95987e-3</span>
<span class="m" style="left:320.69px;top:396.82px">124.35063</span>
<span class="m" style="left:420.73px;top:396.82px">NANDROLONE PHENYLPROPIONATE</span>
<span class="m" style="left:5.20px;top:434.08px">Всего :</span>
<span class="m" style="left:313.00px;top:434.08px">315.48514</span>
</body></html>
